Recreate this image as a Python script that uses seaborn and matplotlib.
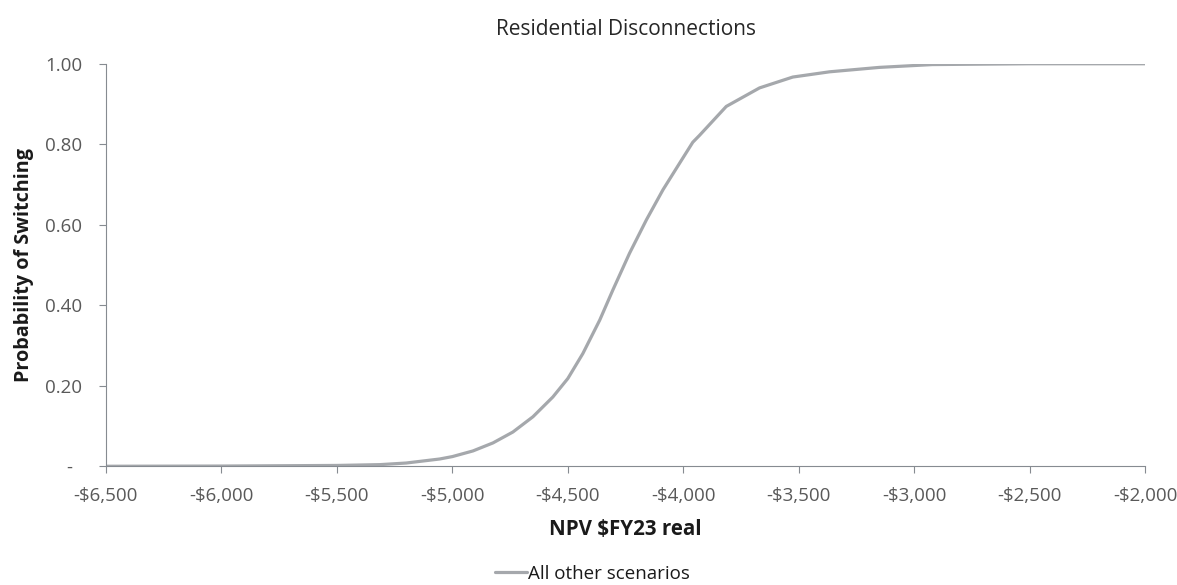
"""Residential disconnections: probability of switching vs NPV."""
import matplotlib
matplotlib.use("Agg")
import matplotlib.pyplot as plt
import matplotlib.ticker as mticker
import pandas as pd
import seaborn as sns

# values
npv = [-6500, -6000, -5500, -5314, -5200, -5055, -5000, -4911, -4824, -4738,
       -4651, -4565, -4500, -4435, -4362, -4305, -4233, -4160, -4088, -4016,
       -3959, -3930, -3814, -3670, -3526, -3367, -3151, -2922, -2500, -2000]
prob = [0.0, 0.0005, 0.002, 0.004, 0.008, 0.018, 0.024, 0.038, 0.058, 0.085,
        0.123, 0.172, 0.218, 0.280, 0.363, 0.438, 0.529, 0.612, 0.687, 0.753,
        0.805, 0.822, 0.894, 0.940, 0.967, 0.980, 0.991, 0.998, 1.0, 1.0]
series_name = "All other scenarios"
title = "Residential Disconnections"
x_label = "NPV $FY23 real"
y_label = "Probability of Switching"
x_ticks = list(range(-6500, -1999, 500))
y_ticks = [0, 0.2, 0.4, 0.6, 0.8, 1.0]

df = pd.DataFrame({"npv": npv, "prob": prob})

sns.set_style("white")
plt.rcParams["font.family"] = ["Open Sans", "DejaVu Sans"]

fig, ax = plt.subplots(figsize=(11.77, 5.85), dpi=100)
fig.subplots_adjust(left=0.090, right=0.973, top=0.891, bottom=0.203)

sns.lineplot(data=df, x="npv", y="prob", color="#a5a8ac", linewidth=2.3,
             label=series_name, ax=ax)

ax.set_xlim(-6500, -2000)
ax.set_ylim(0, 1.0)
ax.set_xticks(x_ticks)
ax.set_yticks(y_ticks)
ax.xaxis.set_major_formatter(mticker.FuncFormatter(
    lambda v, _: f"-${abs(v):,.0f}" if v < 0 else f"${v:,.0f}"))
ax.yaxis.set_major_formatter(mticker.FuncFormatter(
    lambda v, _: "-  " if abs(v) < 1e-9 else f"{v:.2f}"))

for side in ["top", "right"]:
    ax.spines[side].set_visible(False)
for side in ["left", "bottom"]:
    ax.spines[side].set_color("#868b91")
    ax.spines[side].set_linewidth(0.8)
ax.tick_params(axis="both", direction="out", length=5, width=0.8,
               bottom=True, left=True,
               color="#868b91", labelcolor="#595959", labelsize=13.5)
ax.tick_params(axis="y", pad=12)
ax.tick_params(axis="x", pad=10)

ax.set_title(title, fontsize=15, color="#262626", pad=21)
ax.set_xlabel(x_label, fontsize=14.8, fontweight="bold", color="#1a1a1a", labelpad=10)
ax.set_ylabel(y_label, fontsize=14.2, fontweight="bold", color="#1a1a1a", labelpad=8)

ax.legend(loc="upper center", bbox_to_anchor=(0.468, -0.203), frameon=False,
          handlelength=1.7, handletextpad=0.05, fontsize=13.5,
          labelcolor="#1a1a1a")

fig.savefig("out.png", dpi=100)
